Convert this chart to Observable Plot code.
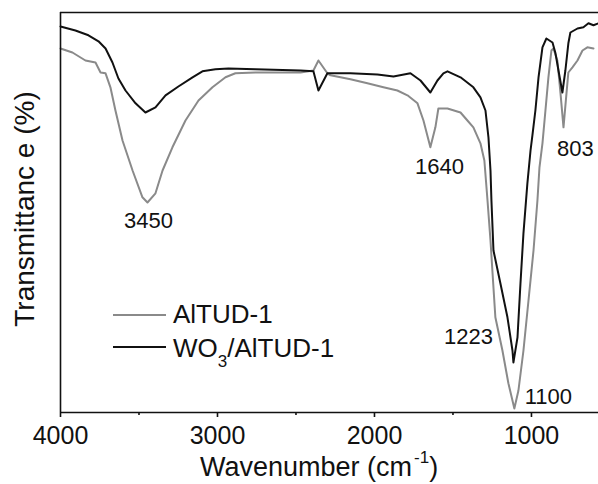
<!DOCTYPE html>
<html>
<head>
<meta charset="utf-8">
<script src="https://cdn.jsdelivr.net/npm/d3@7"></script>
<script src="https://cdn.jsdelivr.net/npm/@observablehq/plot@0.6"></script>
<style>
  html, body { margin: 0; padding: 0; background: #fff; }
  svg { display: block; }
</style>
</head>
<body>
<script>
// ---- Data ----
const seriesNames = ["AlTUD-1", "WO3/AlTUD-1"];

// AlTUD-1 (gray)
const grayWavenumber = [4000,3924,3841,3777,3745,3713,3682,3650,3605,3541,3478,3446,3395,3350,3287,3204,3121,3032,2949,2886,2758,2471,2389,2357,2300,2280,2153,2045,1943,1854,1790,1726,1688,1644,1612,1593,1535,1452,1408,1370,1325,1300,1280,1261,1249,1230,1185,1147,1109,1083,1051,1019,987,962,949,930,911,892,873,860,835,815,796,777,765,739,707,675,644,605];
const grayT = [91,90,88,87.5,85,84.8,81.3,75.5,68,60.5,53.8,52.5,54.8,60.5,66.3,73,78,81.3,83.8,84.8,85,85,85.5,88,84.8,84.3,83.3,82.3,81.3,80.5,79.3,77.3,73,66.3,71.3,76,76,75,73,71.3,67.3,63,53,43,35.5,23.8,15.5,7.3,1,5.5,15.5,28,40.5,53,61.3,67.3,75.5,83.8,90.5,91,88,79.8,71.3,79.8,85,86.3,88,90.5,91.3,91];

// WO3/AlTUD-1 (black)
const blackWavenumber = [4000,3905,3822,3758,3713,3669,3631,3586,3522,3459,3395,3331,3249,3159,3096,3013,2930,2758,2471,2389,2357,2300,2280,2153,1981,1879,1771,1707,1644,1599,1561,1535,1452,1370,1325,1293,1274,1261,1255,1242,1198,1153,1121,1115,1089,1070,1051,1026,1006,994,975,955,930,905,866,847,828,803,784,765,752,707,669,637,605,573];
const blackT = [96.5,95.5,94.3,92.8,91,87.5,83.5,80.5,77.3,75,76.3,79.3,81.5,83.8,85.3,85.8,86,85.8,85.5,85.3,80.5,84.8,84.8,84.8,84.5,84,84.8,83,80,83,84.8,85.3,83.8,81.3,78.8,75.5,68.8,60.5,53,40.5,32.3,23.8,15.5,12.5,18.8,32.3,44.8,57.3,65.5,69.3,75.5,83.8,91.3,93.5,92.5,89.8,85.5,80,85.5,92.3,95,96,96.3,97.3,96.8,97.3];

// Peak annotations
const peakLabels = ["3450", "1640", "803", "1223", "1100"];
const peakLabelX = [3440, 1586, 720, 1401, 892];
const peakLabelY = [48, 61.5, 66, 19, 4];

// Axis ticks
const majorTicks = [4000, 3000, 2000, 1000];
const minorTicks = [3500, 2500, 1500];
const xDomain = [4000, 573];
const yDomain = [0, 100];

// ---- Build tables ----
const gray = grayWavenumber.map((w, i) => ({w, t: grayT[i]}));
const black = blackWavenumber.map((w, i) => ({w, t: blackT[i]}));
const peaks = peakLabels.map((s, i) => ({s, x: peakLabelX[i], y: peakLabelY[i]}));

const FONT = "'Liberation Sans', Arial, Helvetica, sans-serif";
const INK = "#111";
const GRAY = "#8a8a8a";

const chart = Plot.plot({
  width: 598,
  height: 484,
  marginLeft: 60,
  marginRight: 0,
  marginTop: 12,
  marginBottom: 72,
  style: {fontFamily: FONT, color: INK, background: "#fff", overflow: "visible"},
  x: {domain: xDomain},
  y: {domain: yDomain, axis: null},
  marks: [
    Plot.line(gray, {x: "w", y: "t", stroke: GRAY, strokeWidth: 2, curve: "linear"}),
    Plot.line(black, {x: "w", y: "t", stroke: INK, strokeWidth: 2, curve: "linear"}),
    Plot.ruleX([xDomain[0]], {stroke: INK, strokeWidth: 1.6}),
    Plot.ruleY([yDomain[1]], {stroke: INK, strokeWidth: 1.6}),
    Plot.ruleY([yDomain[0]], {stroke: INK, strokeWidth: 1.6}),
    Plot.axisX({ticks: majorTicks, tickSize: 5, tickPadding: 9, fontSize: 25,
                tickFormat: d => String(d), label: null, strokeWidth: 1.6}),
    Plot.axisX({ticks: minorTicks, tickSize: 3, tickFormat: () => "", label: null, strokeWidth: 1.6}),
    Plot.text(peaks, {x: "x", y: "y", text: "s", fontSize: 22, fill: INK})
  ]
});

document.body.appendChild(chart);

// ---- Titles and legend ----
const svg = d3.select(chart);

// y-axis title
svg.append("text")
  .attr("transform", "translate(34,209) rotate(-90)")
  .attr("text-anchor", "middle")
  .attr("font-family", FONT)
  .attr("font-size", 28)
  .attr("fill", INK)
  .text("Transmittanc e (%)");

// x-axis title with superscript
const xt = svg.append("text")
  .attr("x", 200).attr("y", 476)
  .attr("text-anchor", "start")
  .attr("font-family", FONT)
  .attr("font-size", 27)
  .attr("fill", INK);
xt.append("tspan").text("Wavenumber (cm");
xt.append("tspan").attr("dx", 2).attr("dy", -13).attr("font-size", 17).text("-1");
xt.append("tspan").attr("dy", 13).text(")");

// legend
const legendColors = [GRAY, INK];
const legendLineY = [315, 347];
const legendTextY = [323, 357];
seriesNames.forEach((name, i) => {
  svg.append("line")
    .attr("x1", 113).attr("x2", 166)
    .attr("y1", legendLineY[i]).attr("y2", legendLineY[i])
    .attr("stroke", legendColors[i]).attr("stroke-width", 2);
  const t = svg.append("text")
    .attr("x", 173).attr("y", legendTextY[i])
    .attr("text-anchor", "start")
    .attr("font-family", FONT).attr("font-size", 26).attr("fill", INK);
  if (name.startsWith("WO3")) {
    t.append("tspan").text("WO");
    t.append("tspan").attr("dy", 10).attr("font-size", 17).text("3");
    t.append("tspan").attr("dy", -10).text("/AlTUD-1");
  } else {
    t.text(name);
  }
});
</script>
</body>
</html>
